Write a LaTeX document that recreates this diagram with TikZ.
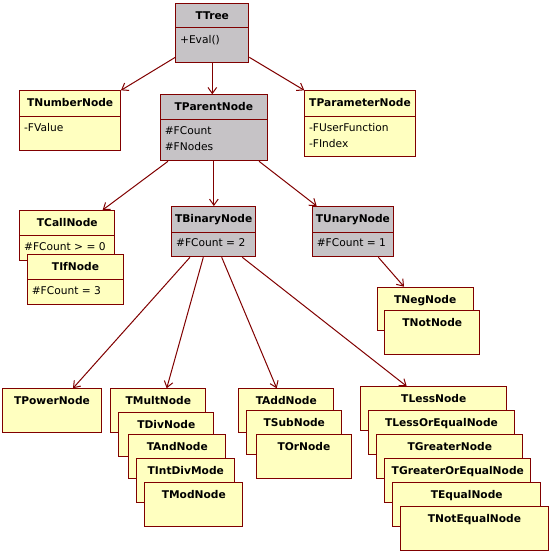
\documentclass[tikz,border=0pt]{standalone}
\usepackage{fontspec}
\setmainfont{DejaVu Sans}
\usetikzlibrary{arrows.meta}
\definecolor{umlred}{HTML}{800000}
\definecolor{umlyellow}{HTML}{FFFFC0}
\definecolor{umlgrey}{HTML}{C6C3C6}

\begin{document}
\begin{tikzpicture}[
    x=0.75pt, y=-0.75pt,
    cls/.style args={#1/#2}{rectangle, draw=umlred, fill=umlyellow,
      line width=0.75pt, anchor=north west, inner sep=0pt,
      minimum width=#1*0.75pt, text height=16*0.75pt, text depth=(#2-16)*0.75pt,
      font=\fontsize{8}{10}\selectfont\bfseries},
    abstract/.style={fill=umlgrey},
    hdr/.style={path picture={\draw[umlred, line width=0.75pt]
        ([yshift=-#1*0.75pt]path picture bounding box.north west) --
        ([yshift=-#1*0.75pt]path picture bounding box.north east);}},
    attr/.style={anchor=north west, inner sep=0pt, align=left,
      xshift=4.5*0.75pt, yshift=-32.5*0.75pt,
      font=\normalfont\fontsize{8}{12}\selectfont},
    inherit/.style={draw=umlred, line width=0.75pt,
      -{Straight Barb[length=4.5pt, width=6.5pt]}},
  ]
  \useasboundingbox (0,0) rectangle (550,553);

  % Root class
  \node[cls=73/59.6, abstract, hdr=24.6] (tree) at (175.3,2.7) {TTree};
  \node[attr] (treeops) at (tree.north west) {+Eval()};

  % Level 1
  \node[cls=100.7/60, hdr=25.4] (number) at (19.3,90.3) {TNumberNode};
  \node[attr] (numberattr) at (number.north west) {-FValue};

  \node[cls=106.7/66, abstract, hdr=24.7] (parent) at (160,94.3) {TParentNode};
  \node[attr] (parentattr) at (parent.north west) {\#FCount\\\#FNodes};

  \node[cls=110.4/66, hdr=25.4] (parameter) at (304.3,90.3) {TParameterNode};
  \node[attr] (parameterattr) at (parameter.north west) {-FUserFunction\\-FIndex};

  % Level 2
  \node[cls=95/50, hdr=25] (call) at (19.3,210) {TCallNode};
  \node[attr] (callattr) at (call.north west) {\#FCount > = 0};

  \node[cls=96/50, hdr=25] (if) at (27,254.3) {TIfNode};
  \node[attr] (ifattr) at (if.north west) {\#FCount = 3};

  \node[cls=83.7/50.3, abstract, hdr=25.7] (binary) at (171.3,206) {TBinaryNode};
  \node[attr] (binaryattr) at (binary.north west) {\#FCount = 2};

  \node[cls=80.7/50.3, abstract, hdr=25.7] (unary) at (312,206) {TUnaryNode};
  \node[attr] (unaryattr) at (unary.north west) {\#FCount = 1};

  % Unary operators
  \node[cls=96/43.3] (neg) at (376.7,286.7) {TNegNode};
  \node[cls=95/44] (not) at (384.3,310.3) {TNotNode};

  % Binary operators
  \node[cls=98.4/44] (power) at (2.3,388.3) {TPowerNode};

  \node[cls=95/44] (mult) at (110.3,388.3) {TMultNode};
  \node[cls=95/44] (div) at (118.3,412.3) {TDivNode};
  \node[cls=97/44] (and) at (128.3,434.3) {TAndNode};
  \node[cls=98/44] (intdiv) at (136.3,458.3) {TIntDivMode};
  \node[cls=98/44] (mod) at (144.3,482.3) {TModNode};

  \node[cls=95/44] (add) at (238.3,388.3) {TAddNode};
  \node[cls=95/44] (sub) at (246.3,410.3) {TSubNode};
  \node[cls=94.4/44] (or) at (256.3,434.3) {TOrNode};

  \node[cls=146/44] (less) at (360.3,386.3) {TLessNode};
  \node[cls=145.4/44] (lesseq) at (368.3,410.3) {TLessOrEqualNode};
  \node[cls=146/44] (greater) at (376.3,434.3) {TGreaterNode};
  \node[cls=146/44] (greatereq) at (384.3,458.3) {TGreaterOrEqualNode};
  \node[cls=148/44] (equal) at (392.3,482.3) {TEqualNode};
  \node[cls=147.4/44] (notequal) at (400.3,506.3) {TNotEqualNode};

  % Inheritance arrows
  \draw[inherit] ([yshift=4.5pt]tree.south west) -- (number.north east);
  \draw[inherit] (tree.south) -- (tree.south |- parent.north);
  \draw[inherit] ([yshift=4.5pt]tree.south east) -- (parameter.north west);
  \draw[inherit] ([xshift=6pt]parent.south west) -- ([xshift=-9.5pt]call.north east);
  \draw[inherit] (parent.south) -- (parent.south |- binary.north);
  \draw[inherit] ([xshift=-6.5pt]parent.south east) -- ([xshift=3.5pt]unary.north west);
  \draw[inherit] ([xshift=-11.5pt]unary.south east) -- ([xshift=20.5pt]neg.north west);
  \draw[inherit] ([xshift=14pt]binary.south west) -- ([xshift=53pt]power.north west);
  \draw[inherit] ([xshift=24pt]binary.south west) -- ([xshift=42.3pt]mult.north west);
  \draw[inherit] ([xshift=37.8pt]binary.south west) -- ([xshift=28.8pt]add.north west);
  \draw[inherit] ([xshift=53.25pt]binary.south west) -- ([xshift=34.8pt]less.north west);

\end{tikzpicture}
\end{document}
